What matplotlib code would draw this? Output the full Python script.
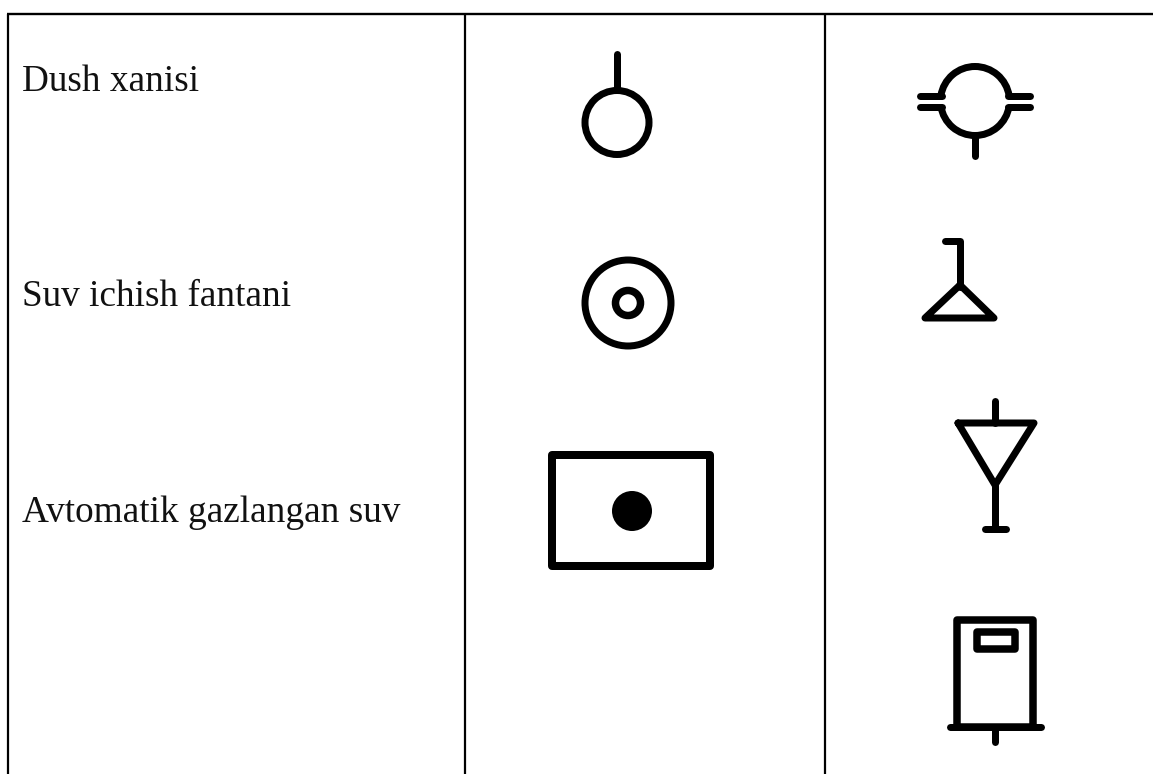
import matplotlib
matplotlib.use("Agg")
import matplotlib.pyplot as plt
from matplotlib.patches import Arc, Circle, Rectangle

W = 1153
H = 774

row_labels = ["Dush xanisi", "Suv ichish fantani", "Avtomatik gazlangan suv"]
row_label_y = [91, 306, 522]
column_x = [8, 465, 825]
top_line_y = 14
table_bottom = 774

fig = plt.figure(figsize=(W / 100, H / 100), dpi=100)
ax = fig.add_axes([0, 0, 1, 1])
ax.set_xlim(0, W)
ax.set_ylim(H, 0)
ax.axis("off")

# px to pt
LW = 7 * 0.72


def line(xs, ys, lw=LW):
    ax.plot(xs, ys, color="black", lw=lw, solid_capstyle="round", solid_joinstyle="round")


def circle(x, y, r, lw=LW):
    ax.add_patch(Circle((x, y), r, fill=False, ec="black", lw=lw))


def box(x0, y0, x1, y1, lw=LW):
    ax.add_patch(Rectangle((x0, y0), x1 - x0, y1 - y0, fill=False, ec="black", lw=lw,
                           joinstyle="round"))


# table lines
ax.plot([column_x[0] - 1, W], [top_line_y, top_line_y], color="black", lw=1.7, solid_capstyle="butt")
for x in column_x:
    ax.plot([x, x], [top_line_y, table_bottom], color="black", lw=1.6, solid_capstyle="butt")

for label, y in zip(row_labels, row_label_y):
    ax.text(22, y, label, family="Liberation Serif", fontsize=26.8,
            va="baseline", ha="left", color="#111111")

# shower, column 1
circle(617, 122.5, 32)
line([617, 617], [54, 88])

# drinking fountain
circle(628, 303, 43)
circle(628, 303, 12.5, lw=7.5 * 0.72)

# gas water box
box(552, 455, 710, 566, lw=8 * 0.72)
ax.add_patch(Circle((632, 511), 20, fc="black", ec="none"))

# shower, column 2 - circle is broken where the double pipes come in
ax.add_patch(Arc((975, 101), 69, 69, theta1=9, theta2=171, ec="black", lw=LW))
ax.add_patch(Arc((975, 101), 69, 69, theta1=189, theta2=351, ec="black", lw=LW))
line([920, 942], [96, 96])
line([920, 942], [107, 107])
line([1008, 1030], [96, 96])
line([1008, 1030], [107, 107])
line([975, 975], [137, 156])

# fountain, column 2
line([945, 960, 960], [241, 241, 287])
line([960, 925, 994, 960], [285, 318, 318, 285])

# funnel symbol
line([995, 995], [401, 423])
line([958, 1034, 995, 958], [423, 423, 485, 423])
line([995, 995], [485, 528])
line([985, 1006], [528.5, 528.5])

# vending machine
box(957, 620, 1033, 727, lw=7.5 * 0.72)
box(977, 632, 1015, 649, lw=7.5 * 0.72)
line([950, 1041], [727, 727])
line([995, 995], [727, 742])

fig.savefig("out.png", dpi=100)
